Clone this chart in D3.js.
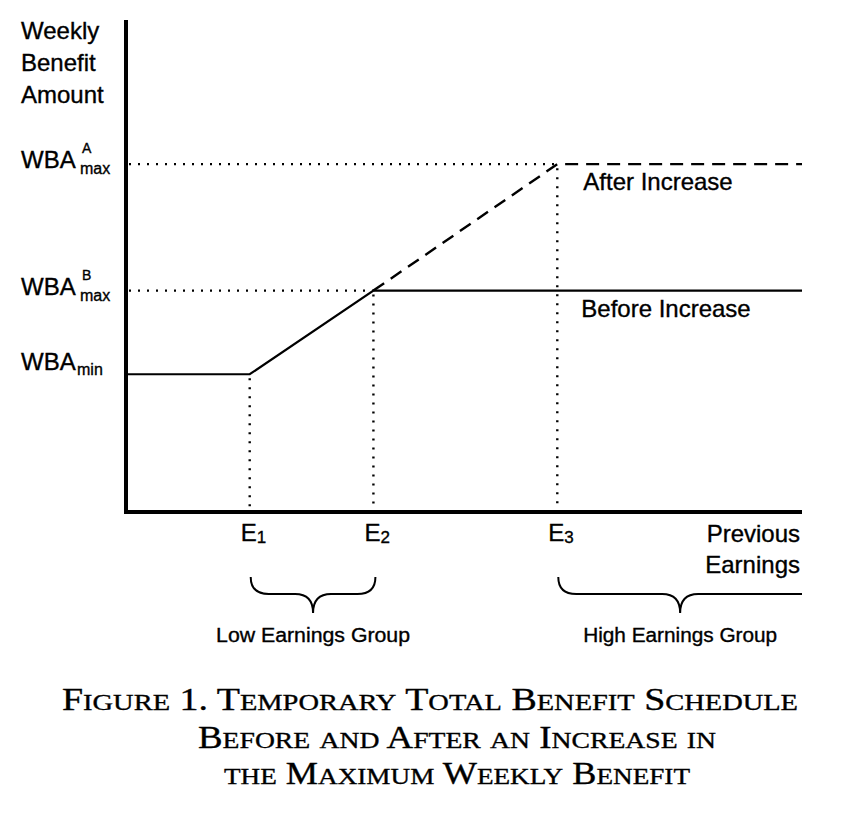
<!DOCTYPE html>
<html>
<head>
<meta charset="utf-8">
<script src="https://cdn.jsdelivr.net/npm/d3@7"></script>
<style>
    html, body { margin: 0; padding: 0; background: #fff; }
    svg { display: block; }
    svg text { stroke: #000; stroke-width: 0.35px; }
</style>
</head>
<body>
<div id="chart"></div>
<script>
// Benefit levels on the vertical axis (relative units)
const levelValues = [0.28, 0.45, 0.707];
const levelSup = ["", "B", "A"];
const levelSub = ["min", "max", "max"];

// Earnings thresholds on the horizontal axis (relative units)
const earningsValues = [0.183, 0.366, 0.638];
const earningsSub = ["1", "2", "3"];

// Schedule before the increase (solid)
const beforeX = [0, 0.183, 0.366, 1];
const beforeY = [0.28, 0.28, 0.45, 0.45];

// Part of the schedule after the increase that differs (dashed)
const afterX = [0.366, 0.638, 1];
const afterY = [0.45, 0.707, 0.707];

// Earnings groups shown with braces
const groupNames = ["Low Earnings Group", "High Earnings Group"];
const groupFrom = [0.183, 0.638];
const groupTo = [0.366, 1];

const yTitleLines = ["Weekly", "Benefit", "Amount"];
const xTitleLines = ["Previous", "Earnings"];
const captionLines = [
    "Figure 1. Temporary Total Benefit Schedule",
    "Before and After an Increase in",
    "the Maximum Weekly Benefit"
];

const config = {
    width: 842,
    height: 817,
    plot: { left: 126, right: 802, top: 20, bottom: 512 },
    font: "'Liberation Sans', Arial, Helvetica, sans-serif",
    serif: "'Liberation Serif', 'Times New Roman', serif"
};

const svg = d3.select("#chart").append("svg")
    .attr("width", config.width)
    .attr("height", config.height);

const x = d3.scaleLinear().domain([0, 1]).range([config.plot.left, config.plot.right]);
const y = d3.scaleLinear().domain([0, 1]).range([config.plot.bottom, config.plot.top]);

const dotted = "2,7";

// Guide lines from the axis to the kinks
svg.append("line")
    .attr("x1", x(0) + 3).attr("x2", x(earningsValues[2]))
    .attr("y1", y(levelValues[2])).attr("y2", y(levelValues[2]))
    .attr("stroke", "#000").attr("stroke-width", 2.4).attr("stroke-dasharray", dotted);
svg.append("line")
    .attr("x1", x(0) + 3).attr("x2", x(earningsValues[1]))
    .attr("y1", y(levelValues[1])).attr("y2", y(levelValues[1]))
    .attr("stroke", "#000").attr("stroke-width", 2.4).attr("stroke-dasharray", dotted);

const kinkLevels = [levelValues[0], levelValues[1], levelValues[2]];
earningsValues.forEach((e, i) => {
    svg.append("line")
        .attr("x1", x(e)).attr("x2", x(e))
        .attr("y1", y(kinkLevels[i]) + 4).attr("y2", y(0))
        .attr("stroke", "#000").attr("stroke-width", 2.4).attr("stroke-dasharray", dotted);
});

// Schedules
const line = d3.line().x(d => x(d[0])).y(d => y(d[1]));

svg.append("path")
    .datum(beforeX.map((v, i) => [v, beforeY[i]]))
    .attr("d", line)
    .attr("fill", "none").attr("stroke", "#000").attr("stroke-width", 2.2);

svg.append("path")
    .datum(afterX.map((v, i) => [v, afterY[i]]))
    .attr("d", line)
    .attr("fill", "none").attr("stroke", "#000").attr("stroke-width", 2.4)
    .attr("stroke-dasharray", "13,8");

// Axes
svg.append("line")
    .attr("x1", x(0)).attr("x2", x(0))
    .attr("y1", y(1)).attr("y2", y(0) + 2)
    .attr("stroke", "#000").attr("stroke-width", 4);
svg.append("line")
    .attr("x1", x(0) - 2).attr("x2", x(1))
    .attr("y1", y(0)).attr("y2", y(0))
    .attr("stroke", "#000").attr("stroke-width", 4);

// Y axis title
svg.append("g").selectAll("text")
    .data(yTitleLines)
    .enter().append("text")
    .attr("x", 21)
    .attr("y", (d, i) => 39 + i * 32)
    .attr("font-family", config.font)
    .attr("font-size", 24)
    .text(d => d);

// Y tick labels: WBA with sub/superscripts
levelValues.forEach((v, i) => {
    const yy = y(v);
    const hasSup = levelSup[i] !== "";
    const base = hasSup ? yy + 4 : yy - 4;
    svg.append("text")
        .attr("x", 21).attr("y", base)
        .attr("font-family", config.font).attr("font-size", 24)
        .text("WBA");
    if (hasSup) {
        svg.append("text")
            .attr("x", 82).attr("y", base - 15)
            .attr("font-family", config.font).attr("font-size", 14)
            .text(levelSup[i]);
        svg.append("text")
            .attr("x", 80).attr("y", base + 6)
            .attr("font-family", config.font).attr("font-size", 16)
            .text(levelSub[i]);
    } else {
        svg.append("text")
            .attr("x", 77).attr("y", base + 5)
            .attr("font-family", config.font).attr("font-size", 16)
            .text(levelSub[i]);
    }
});

// X tick labels E1..E3
earningsValues.forEach((e, i) => {
    const t = svg.append("text")
        .attr("x", x(e) - 9).attr("y", 541)
        .attr("font-family", config.font).attr("font-size", 24);
    t.append("tspan").text("E");
    t.append("tspan").attr("font-size", 17).attr("dy", 2).text(earningsSub[i]);
});

// X axis title
svg.append("g").selectAll("text")
    .data(xTitleLines)
    .enter().append("text")
    .attr("x", x(1) - 2)
    .attr("y", (d, i) => 542 + i * 31)
    .attr("text-anchor", "end")
    .attr("font-family", config.font)
    .attr("font-size", 24)
    .text(d => d);

// Series labels
svg.append("text")
    .attr("x", x(earningsValues[2]) + 26).attr("y", y(levelValues[2]) + 26)
    .attr("font-family", config.font).attr("font-size", 24)
    .text("After Increase");
svg.append("text")
    .attr("x", x(earningsValues[2]) + 24).attr("y", y(levelValues[1]) + 26)
    .attr("font-family", config.font).attr("font-size", 24)
    .text("Before Increase");

// Braces for earnings groups
function bracePath(x0, x1, open) {
    const top = 577, mid = 594, tip = 613, r = 18;
    const xc = (x0 + x1) / 2;
    let p = `M${x0},${top} Q${x0},${mid} ${x0 + r},${mid} L${xc - r},${mid} Q${xc},${mid} ${xc},${tip} Q${xc},${mid} ${xc + r},${mid}`;
    if (open) {
        p += ` L${x1},${mid}`;
    } else {
        p += ` L${x1 - r},${mid} Q${x1},${mid} ${x1},${top}`;
    }
    return p;
}

groupNames.forEach((name, i) => {
    const x0 = x(groupFrom[i]) + 1;
    const x1 = x(groupTo[i]) + (groupTo[i] === 1 ? 0 : 2);
    svg.append("path")
        .attr("d", bracePath(x0, x1, groupTo[i] === 1))
        .attr("fill", "none").attr("stroke", "#000").attr("stroke-width", 2);
    svg.append("text")
        .attr("x", (x0 + x1) / 2).attr("y", 642)
        .attr("text-anchor", "middle")
        .attr("font-family", config.font).attr("font-size", 20)
        .attr("textLength", 194).attr("lengthAdjust", "spacingAndGlyphs")
        .text(name);
});

// Caption in small caps
const captionX = [62, 198, 224];
const captionEnd = [798, 716, 690];
const captionY = [710, 748, 784];

captionLines.forEach((txt, i) => {
    const t = svg.append("text")
        .attr("x", captionX[i]).attr("y", captionY[i])
        .attr("font-family", config.serif)
        .attr("textLength", captionEnd[i] - captionX[i])
        .attr("lengthAdjust", "spacingAndGlyphs");
    // split into runs of capitals and lower-case letters
    const runs = txt.match(/([A-Z0-9. ]+|[a-z]+)/g);
    runs.forEach(run => {
        const small = /^[a-z]+$/.test(run);
        t.append("tspan")
            .attr("font-size", small ? 24 : 32)
            .text(run.toUpperCase());
    });
});
</script>
</body>
</html>
